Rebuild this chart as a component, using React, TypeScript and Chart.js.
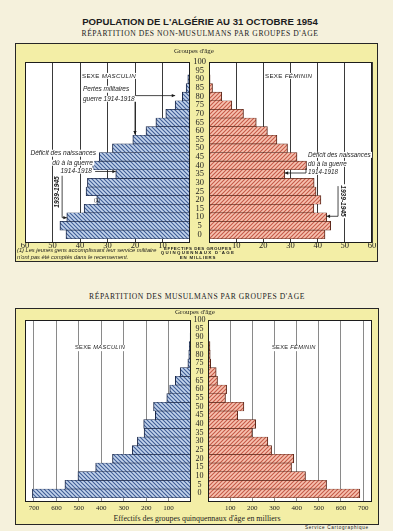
import React, { useEffect, useRef } from 'react';
import { Chart, registerables } from 'chart.js';
Chart.register(...registerables);

// ---------- DATA ----------
const AGES = [0, 5, 10, 15, 20, 25, 30, 35, 40, 45, 50, 55, 60, 65, 70, 75, 80, 85, 90, 95];
const AGE_TICKS = [0, 5, 10, 15, 20, 25, 30, 35, 40, 45, 50, 55, 60, 65, 70, 75, 80, 85, 90, 95, 100];

// Non-musulmans (milliers)
const NM_MALE = [45.1, 47.3, 44.8, 38.5, 33.9, 37.8, 37.3, 27.0, 35.4, 33.0, 28.2, 20.8, 16.0, 12.4, 8.8, 5.4, 2.8, 1.4, 0.8, 0.2];
const NM_FEMALE = [42.7, 44.8, 43.3, 38.6, 41.2, 39.4, 38.7, 27.9, 35.9, 32.4, 28.9, 25.0, 21.5, 17.4, 12.7, 8.4, 4.7, 1.3, 0.4, 0.2];
const NM_TICKS = [10, 20, 30, 40, 50, 60];
const NM_MAX = 60;

// Musulmans (milliers)
const M_MALE = [707, 562, 504, 425, 350, 262, 239, 209, 211, 159, 167, 108, 95, 70, 48, 14, 10, 8, 4, 3];
const M_FEMALE = [685, 535, 440, 377, 387, 287, 270, 200, 215, 134, 162, 79, 84, 43, 37, 12, 10, 9, 4, 3];
const M_TICKS = [100, 200, 300, 400, 500, 600, 700];
const M_MAX = 740;

const SANS = '"Liberation Sans", Arial, sans-serif';
const SERIF = '"Liberation Serif", "DejaVu Serif", serif';

type Line = { pts: [number, number][]; arrow?: boolean };

function makeHatch(ctx: CanvasRenderingContext2D, bg: string, fg: string, dir: number) {
  const s = 4;
  const c = document.createElement('canvas');
  c.width = s; c.height = s;
  const g = c.getContext('2d')!;
  g.fillStyle = bg; g.fillRect(0, 0, s, s);
  g.strokeStyle = fg; g.lineWidth = 1.1;
  g.beginPath();
  if (dir > 0) {
    g.moveTo(-1, s + 1); g.lineTo(s + 1, -1);
    g.moveTo(-1, 1); g.lineTo(1, -1);
    g.moveTo(s - 1, s + 1); g.lineTo(s + 1, s - 1);
  } else {
    g.moveTo(-1, -1); g.lineTo(s + 1, s + 1);
    g.moveTo(-1, s - 1); g.lineTo(1, s + 1);
    g.moveTo(s - 1, -1); g.lineTo(s + 1, 1);
  }
  g.stroke();
  return ctx.createPattern(c, 'repeat')!;
}

interface SideProps {
  left: number; top: number; width: number; height: number;
  values: number[]; ticks: number[]; max: number;
  female: boolean;
  padLeft: number; padRight: number;
  ageAxisWidth?: number; ageFont?: number; agePad?: number;
  tickFont: number; tickPad: number;
  gridColor: string;
  lines?: Line[];
}

function Side(p: SideProps) {
  const ref = useRef<HTMLCanvasElement>(null);
  useEffect(() => {
    const canvas = ref.current!;
    const ctx = canvas.getContext('2d')!;
    const hatch = p.female
      ? makeHatch(ctx, '#f7c2b0', '#c55a48', 1)
      : makeHatch(ctx, '#c3d4ec', '#3f5d96', -1);
    const plugin = {
      id: 'panelDeco',
      beforeDraw(chart: any) {
        const a = chart.chartArea; const c = chart.ctx;
        c.save(); c.fillStyle = '#ffffff';
        c.fillRect(a.left, a.top, a.right - a.left, a.bottom - a.top);
        c.restore();
      },
      afterDraw(chart: any) {
        const a = chart.chartArea; const c = chart.ctx;
        c.save();
        c.strokeStyle = '#1c1c1c'; c.lineWidth = 1;
        c.strokeRect(a.left + 0.5, a.top + 0.5, a.right - a.left - 1, a.bottom - a.top - 1);
        const xs = chart.scales.x, ys = chart.scales.y;
        c.strokeStyle = '#1a1a1a'; c.fillStyle = '#1a1a1a'; c.lineWidth = 0.8;
        for (const ln of p.lines || []) {
          const P = ln.pts.map(([v, g]) => [xs.getPixelForValue(v), ys.getPixelForValue(g)]);
          c.beginPath();
          P.forEach(([x, y], i) => (i ? c.lineTo(x, y) : c.moveTo(x, y)));
          c.stroke();
          if (ln.arrow && P.length > 1) {
            const [x1, y1] = P[P.length - 2];
            const [x2, y2] = P[P.length - 1];
            const ang = Math.atan2(y2 - y1, x2 - x1);
            const L = 3.4, W = 1.7;
            c.beginPath();
            c.moveTo(x2, y2);
            c.lineTo(x2 - L * Math.cos(ang) + W * Math.sin(ang), y2 - L * Math.sin(ang) - W * Math.cos(ang));
            c.lineTo(x2 - L * Math.cos(ang) - W * Math.sin(ang), y2 - L * Math.sin(ang) + W * Math.cos(ang));
            c.closePath(); c.fill();
          }
        }
        c.restore();
      },
    };
    const chart = new Chart(canvas, {
      type: 'bar',
      data: {
        datasets: [{
          data: p.values.map((v, i) => ({ x: v, y: AGES[i] })),
          backgroundColor: hatch,
          borderColor: p.female ? '#5a2619' : '#1b2848',
          borderWidth: p.female
            ? { top: 0.6, bottom: 0.6, right: 1, left: 0 }
            : { top: 0.6, bottom: 0.6, left: 1, right: 0 },
          borderSkipped: false,
          categoryPercentage: 1,
          barPercentage: 1,
        } as any],
      },
      options: {
        responsive: false,
        animation: false,
        devicePixelRatio: 1,
        indexAxis: 'y',
        events: [],
        layout: { padding: { left: p.padLeft, right: p.padRight, top: 12, bottom: 0 } },
        plugins: { legend: { display: false }, tooltip: { enabled: false } },
        scales: {
          x: {
            type: 'linear', min: 0, max: p.max, reverse: !p.female, position: 'bottom', z: 1,
            grid: { color: p.gridColor, lineWidth: 1, drawTicks: false },
            border: { display: false },
            ticks: {
              font: { family: 'Liberation Serif', size: p.tickFont }, color: '#222',
              padding: p.tickPad, autoSkip: false, maxRotation: 0, includeBounds: false,
            },
            afterBuildTicks: (ax: any) => { ax.ticks = p.ticks.map((v) => ({ value: v })); },
            afterFit: (ax: any) => { ax.height = 12; },
          },
          y: {
            type: 'linear', min: -2.5, max: 97.5, position: 'left', display: p.female,
            grid: { display: false, drawTicks: false },
            border: { display: false },
            ticks: {
              font: { family: 'Liberation Serif', size: p.ageFont || 8 }, color: '#222',
              padding: p.agePad || 3, autoSkip: false, crossAlign: 'center',
            },
            afterBuildTicks: (ax: any) => { ax.ticks = AGE_TICKS.map((v) => ({ value: v })); },
            afterFit: (ax: any) => { ax.width = p.ageAxisWidth || 0; },
          },
        },
      } as any,
      plugins: [plugin],
    });
    return () => chart.destroy();
  }, []);
  return (
    <canvas ref={ref} width={p.width} height={p.height}
      style={{ position: 'absolute', left: p.left, top: p.top, width: p.width, height: p.height }} />
  );
}

interface TxtProps {
  x: number; y: number; a?: 'start' | 'middle' | 'end'; size: number; family?: string;
  weight?: number; italic?: boolean; ls?: number; bg?: string; rot?: number; children: any;
}
function Txt({ x, y, a = 'start', size, family = SANS, weight = 400, italic = false, ls = 0, bg, rot = 0, children }: TxtProps) {
  const tx = a === 'start' ? '0' : a === 'middle' ? '-50%' : '-100%';
  return (
    <div style={{
      position: 'absolute', left: x, top: y,
      transform: `translate(${tx}, -50%)${rot ? ` rotate(${rot}deg)` : ''}`,
      fontSize: size, lineHeight: 1, fontFamily: family, fontWeight: weight,
      fontStyle: italic ? 'italic' : 'normal', letterSpacing: ls, whiteSpace: 'nowrap',
      background: bg, padding: bg ? '0 1px' : 0, color: '#1c1c1c',
    }}>{children}</div>
  );
}

export default function App() {
  const frame = (l: number, t: number, w: number, h: number) => ({
    position: 'absolute' as const, left: l, top: t, width: w, height: h,
    border: '1.5px solid #262626', background: '#f3eea6', boxSizing: 'border-box' as const,
  });
  return (
    <div style={{ position: 'absolute', left: 0, top: 0, width: 393, height: 531, background: '#f5f1dc', overflow: 'hidden', fontFamily: SERIF }}>
      {/* Titles */}
      <Txt x={200} y={21.7} a="middle" size={9.6} weight={700} ls={0}>POPULATION DE L'ALGÉRIE AU 31 OCTOBRE 1954</Txt>
      <Txt x={200} y={33.5} a="middle" size={7.6} family={SERIF} ls={0.55}>RÉPARTITION DES NON-MUSULMANS PAR GROUPES D'AGE</Txt>

      {/* Top frame */}
      <div style={frame(15, 43, 363, 219)} />
      <Side left={15} top={50} width={175} height={205} values={NM_MALE} ticks={NM_TICKS} max={NM_MAX}
        female={false} padLeft={10} padRight={0} tickFont={8.5} tickPad={-2} gridColor="#3a3a3a"
        lines={[
          { pts: [[20, 80.5], [NM_MALE[15], 80.5]], arrow: true },
          { pts: [[20, 80.5], [20, 58]], arrow: true },
          { pts: [[34.5, 36.5], [NM_MALE[7], 36.5]], arrow: true },
          { pts: [[46.5, 34], [46.5, 9.7], [NM_MALE[2], 9.7]], arrow: true },
        ]} />
      <Side left={190} top={50} width={190} height={205} values={NM_FEMALE} ticks={NM_TICKS} max={NM_MAX}
        female={true} padLeft={0} padRight={8} ageAxisWidth={19} ageFont={8.5} agePad={3}
        tickFont={8.5} tickPad={-2} gridColor="#3a3a3a"
        lines={[
          { pts: [[35.7, 38.5], [35.7, 35.6], [NM_FEMALE[7], 35.6]], arrow: true },
          { pts: [[47.5, 28], [47.5, 10.5], [NM_FEMALE[2], 10.5]], arrow: true },
        ]} />
      <Txt x={194} y={51} a="middle" size={7} family={SERIF}>Groupes d'âge</Txt>

      <Txt x={81} y={76} size={6.2} bg="#fff" ls={0.3}>SEXE <i>MASCULIN</i></Txt>
      <Txt x={82} y={89} size={6.5} italic bg="#fff">Pertes militaires</Txt>
      <Txt x={82} y={98.5} size={6.5} italic bg="#fff">guerre 1914-1918</Txt>
      <Txt x={97} y={153} a="end" size={6.6} italic bg="#fff">Déficit des naissances</Txt>
      <Txt x={94} y={162.5} a="end" size={6.6} italic bg="#fff">dû à la guerre</Txt>
      <Txt x={93} y={170.5} a="end" size={6.6} italic bg="#fff">1914-1918</Txt>
      <Txt x={57} y={191.5} a="middle" size={6.6} italic weight={700} rot={-90} bg="#fff">1939-1945</Txt>
      <Txt x={97} y={201} a="middle" size={4.8}>(1)</Txt>

      <Txt x={264} y={76} size={6.2} bg="#fff" ls={0.3}>SEXE <i>FÉMININ</i></Txt>
      <Txt x={307} y={155} size={6.3} italic bg="#fff">Déficit des naissances</Txt>
      <Txt x={307} y={163.5} size={6.3} italic bg="#fff">dû à la guerre</Txt>
      <Txt x={307} y={171.5} size={6.3} italic bg="#fff">1914-1918</Txt>
      <Txt x={343} y={200.5} a="middle" size={6.6} italic weight={700} rot={90} bg="#fff">1939-1945</Txt>

      <Txt x={17} y={251} size={5.7} italic>(1) Les jeunes gens accomplissant leur service militaire</Txt>
      <Txt x={17} y={257.6} size={5.7} italic>n'ont pas été comptés dans le recensement.</Txt>
      <Txt x={198} y={248.8} a="middle" size={4.4} weight={700} ls={0.5}>EFFECTIFS DES GROUPES</Txt>
      <Txt x={198} y={253.2} a="middle" size={4.4} weight={700} ls={1.3}>QUINQUENNAUX D'AGE</Txt>
      <Txt x={198} y={257.6} a="middle" size={4.4} weight={700} ls={0.8}>EN MILLIERS</Txt>

      {/* Bottom */}
      <Txt x={197} y={296.7} a="middle" size={7.6} family={SERIF} ls={0.55}>RÉPARTITION DES MUSULMANS PAR GROUPES D'AGE</Txt>
      <div style={frame(15, 308, 364, 217)} />
      <Side left={15} top={308} width={176} height={206} values={M_MALE} ticks={M_TICKS} max={M_MAX}
        female={false} padLeft={10} padRight={0} tickFont={7} tickPad={2} gridColor="#8a8a8a" />
      <Side left={191} top={308} width={189} height={206} values={M_FEMALE} ticks={M_TICKS} max={M_MAX}
        female={true} padLeft={0} padRight={8} ageAxisWidth={17} ageFont={8} agePad={2.5}
        tickFont={7} tickPad={2} gridColor="#8a8a8a" />
      <Txt x={195} y={312.3} a="middle" size={7} family={SERIF}>Groupes d'âge</Txt>
      <Txt x={74} y={348.3} size={5.7} bg="#fff" ls={0.3}>SEXE <i>MASCULIN</i></Txt>
      <Txt x={271} y={348.3} size={5.7} bg="#fff" ls={0.3}>SEXE <i>FÉMININ</i></Txt>
      <Txt x={197} y={518.5} a="middle" size={7.9} family={SERIF}>Effectifs des groupes quinquennaux d'âge en milliers</Txt>
      <Txt x={305} y={527.6} size={4.6} ls={0.7}>Service Cartographique</Txt>
    </div>
  );
}
